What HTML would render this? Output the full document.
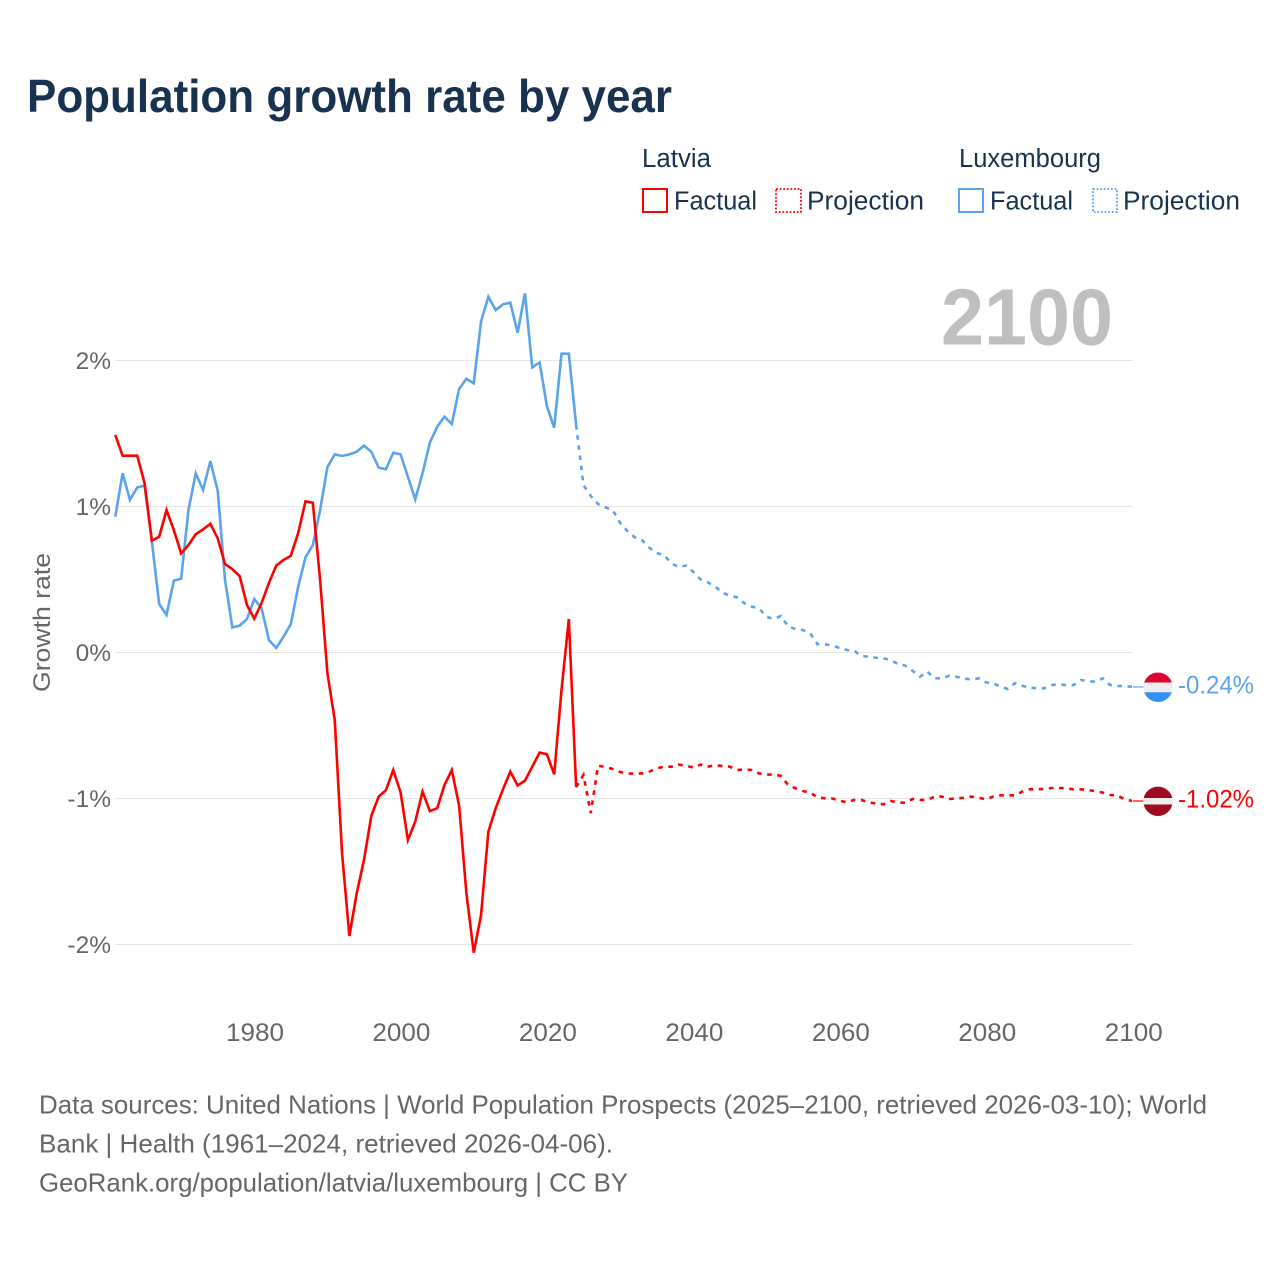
<!DOCTYPE html>
<html lang="en">
<head>
<meta charset="utf-8">
<title>Population growth rate by year</title>
<style>
  html, body { margin: 0; padding: 0; background: #ffffff; }
  svg { display: block; font-family: "Liberation Sans", sans-serif; }
</style>
</head>
<body>
<svg id="chart" xmlns="http://www.w3.org/2000/svg" width="1280" height="1280" viewBox="0 0 1280 1280">
  <rect x="0" y="0" width="1280" height="1280" fill="#ffffff"/>
  <text x="27" y="112" font-size="46" font-weight="bold" fill="#19324f" textLength="645" lengthAdjust="spacingAndGlyphs">Population growth rate by year</text>

  <g font-size="25.5" fill="#19324f">
    <text x="642" y="167" textLength="69" lengthAdjust="spacingAndGlyphs">Latvia</text>
    <text x="959" y="167" textLength="142" lengthAdjust="spacingAndGlyphs">Luxembourg</text>
    <g>
      <rect x="643" y="189" width="24" height="23" fill="none" stroke="#ff0000" stroke-width="2"/>
      <text x="674" y="209.5" textLength="83" lengthAdjust="spacingAndGlyphs">Factual</text>
    </g>
    <g>
      <rect x="776" y="189" width="25" height="23" fill="none" stroke="#ff0000" stroke-width="1.8" stroke-dasharray="1.8 1.8"/>
      <text x="807" y="209.5" textLength="117" lengthAdjust="spacingAndGlyphs">Projection</text>
    </g>
    <g>
      <rect x="959" y="189" width="24" height="23" fill="none" stroke="#5ba3ec" stroke-width="2"/>
      <text x="990" y="209.5" textLength="83" lengthAdjust="spacingAndGlyphs">Factual</text>
    </g>
    <g>
      <rect x="1093" y="189" width="24" height="23" fill="none" stroke="#5ba3ec" stroke-width="1.8" stroke-dasharray="1.8 1.8"/>
      <text x="1123" y="209.5" textLength="117" lengthAdjust="spacingAndGlyphs">Projection</text>
    </g>
  </g>

  <g id="grid"></g>
  <g id="yticks"></g>
  <g id="xticks"></g>

  <text x="941" y="344.5" font-size="80" font-weight="bold" fill="#bfbfbf" textLength="172" lengthAdjust="spacingAndGlyphs">2100</text>
  <text transform="translate(50 692) rotate(-90)" font-size="24" fill="#666666" textLength="139" lengthAdjust="spacingAndGlyphs">Growth rate</text>

  <g id="series"></g>
  <g id="ends"></g>

  <g font-size="26" fill="#666666">
    <text x="39" y="1113.5" textLength="1168" lengthAdjust="spacingAndGlyphs">Data sources: United Nations | World Population Prospects (2025–2100, retrieved 2026-03-10); World</text>
    <text x="39" y="1152.5" textLength="574" lengthAdjust="spacingAndGlyphs">Bank | Health (1961–2024, retrieved 2026-04-06).</text>
    <text x="39" y="1191.5" textLength="589" lengthAdjust="spacingAndGlyphs">GeoRank.org/population/latvia/luxembourg | CC BY</text>
  </g>
</svg>

<script>
const factualStartYear = 1961;
const projectionStartYear = 2025;

const latviaFactual = [
  1.49, 1.348, 1.348, 1.348, 1.16, 0.766, 0.793, 0.976, 0.839,
  0.679, 0.736, 0.81, 0.843, 0.882, 0.782, 0.606, 0.571, 0.524, 0.325,
  0.232, 0.339, 0.476, 0.595, 0.634, 0.663, 0.818, 1.035, 1.026, 0.497,
  -0.143, -0.462, -1.375, -1.942, -1.65, -1.42, -1.118, -0.988, -0.942, -0.805,
  -0.958, -1.284, -1.159, -0.953, -1.086, -1.067, -0.908, -0.805, -1.049, -1.65,
  -2.056, -1.798, -1.227, -1.067, -0.937, -0.816, -0.91, -0.878, -0.782, -0.686,
  -0.697, -0.834, -0.257, 0.229, -0.922
];

const latviaProjection = [
  -0.839, -1.10, -0.775, -0.785, -0.798,
  -0.818, -0.83, -0.828, -0.828, -0.816, -0.794, -0.782, -0.782, -0.768, -0.777,
  -0.787, -0.768, -0.782, -0.773, -0.777, -0.782, -0.805, -0.80, -0.805, -0.828,
  -0.836, -0.836, -0.845, -0.908, -0.93, -0.949, -0.96, -0.992, -0.999, -1.00,
  -1.015, -1.026, -1.01, -1.01, -1.026, -1.035, -1.04, -1.017, -1.026, -1.03,
  -1.003, -1.01, -1.01, -0.987, -0.987, -1.003, -1.0, -0.995, -0.987, -0.995,
  -1.005, -0.987, -0.978, -0.978, -0.978, -0.953, -0.937, -0.937, -0.935, -0.928,
  -0.928, -0.93, -0.937, -0.937, -0.942, -0.95, -0.96, -0.976, -0.98, -1.005, -1.017
];

const luxembourgFactual = [
  0.93, 1.227, 1.045, 1.13, 1.143, 0.759, 0.332, 0.257, 0.492,
  0.505, 0.976, 1.227, 1.113, 1.311, 1.108, 0.497, 0.172, 0.184, 0.229,
  0.366, 0.303, 0.086, 0.031, 0.108, 0.195, 0.451, 0.652, 0.736, 0.976,
  1.27, 1.357, 1.346, 1.357, 1.375, 1.417, 1.375, 1.266, 1.255, 1.368,
  1.357, 1.204, 1.049, 1.227, 1.437, 1.546, 1.615, 1.565, 1.805, 1.875,
  1.844, 2.266, 2.437, 2.346, 2.385, 2.396, 2.19, 2.46, 1.953, 1.987,
  1.688, 1.54, 2.047, 2.047, 1.558
];

const luxembourgProjection = [
  1.147, 1.072, 1.017, 0.994, 0.976,
  0.889, 0.832, 0.789, 0.77, 0.718, 0.681, 0.668, 0.611, 0.586, 0.595,
  0.553, 0.501, 0.481, 0.451, 0.41, 0.389, 0.378, 0.337, 0.314, 0.303,
  0.245, 0.229, 0.25, 0.177, 0.161, 0.154, 0.131, 0.056, 0.056, 0.049,
  0.031, 0.017, 0.012, -0.024, -0.029, -0.036, -0.04, -0.051, -0.079, -0.09,
  -0.125, -0.166, -0.131, -0.177, -0.177, -0.159, -0.166, -0.179, -0.184, -0.177,
  -0.204, -0.211, -0.234, -0.25, -0.21, -0.229, -0.241, -0.245, -0.245, -0.223,
  -0.218, -0.223, -0.223, -0.188, -0.197, -0.2, -0.177, -0.223, -0.229, -0.229, -0.236
];

const yTickValues = [2, 1, 0, -1, -2];
const yTickLabels = ["2%", "1%", "0%", "-1%", "-2%"];
const xTickYears = [1980, 2000, 2020, 2040, 2060, 2080, 2100];
const endLabels = ["-1.02%", "-0.24%"];

const SVG_NS = "http://www.w3.org/2000/svg";
const RED = "#ff0000";
const BLUE = "#5ba3ec";

function xScale(year) { return 115.3 + (year - 1961) * 7.315; }
function yScale(value) { return 652.5 - 146 * value; }

function make(tag, parent) {
  const el = document.createElementNS(SVG_NS, tag);
  parent.appendChild(el);
  return el;
}

function linePath(startYear, values) {
  return values.map(function (v, i) {
    return (i ? "L" : "M") + xScale(startYear + i).toFixed(2) + " " + yScale(v).toFixed(2);
  }).join(" ");
}

const gridGroup = document.getElementById("grid");
const yTickGroup = document.getElementById("yticks");
const xTickGroup = document.getElementById("xticks");
const seriesGroup = document.getElementById("series");
const endGroup = document.getElementById("ends");

yTickValues.forEach(function (value, i) {
  const line = make("line", gridGroup);
  
  
  line.setAttribute("x1", 115);
  line.setAttribute("x2", 1133);
  line.setAttribute("y1", yScale(value));
  line.setAttribute("y2", yScale(value));
  line.setAttribute("stroke", "#e6e6e6");
  line.setAttribute("stroke-width", 1);

  const label = make("text", yTickGroup);
  
  
  label.setAttribute("x", 111);
  label.setAttribute("y", yScale(value) + 8.5);
  label.setAttribute("text-anchor", "end");
  label.setAttribute("font-size", 24.5);
  label.setAttribute("fill", "#666666");
  label.textContent = yTickLabels[i];
});

xTickYears.forEach(function (year) {
  const label = make("text", xTickGroup);
  
  
  label.setAttribute("x", xScale(year) + 0.7 + (year - 1980) * 0.0083);
  label.setAttribute("y", 1041);
  label.setAttribute("text-anchor", "middle");
  label.setAttribute("font-size", 25);
  label.setAttribute("fill", "#666666");
  label.setAttribute("textLength", 58);
  label.setAttribute("lengthAdjust", "spacingAndGlyphs");
  label.textContent = String(year);
});

function drawSeries(factual, projection, color, nameFactual, nameProjection) {
  const projected = make("path", seriesGroup);
  
  
  projected.setAttribute("d", linePath(projectionStartYear - 1, [factual[factual.length - 1]].concat(projection)));
  projected.setAttribute("fill", "none");
  projected.setAttribute("stroke", color);
  projected.setAttribute("stroke-width", 2.6);
  projected.setAttribute("stroke-dasharray", "4.6 5.6");

  const actual = make("path", seriesGroup);
  
  
  actual.setAttribute("d", linePath(factualStartYear, factual));
  actual.setAttribute("fill", "none");
  actual.setAttribute("stroke", color);
  actual.setAttribute("stroke-width", 2.6);
  actual.setAttribute("stroke-linejoin", "miter");
}

drawSeries(luxembourgFactual, luxembourgProjection, BLUE, 'luxembourg-factual-line', 'luxembourg-projection-line');
drawSeries(latviaFactual, latviaProjection, RED, 'latvia-factual-line', 'latvia-projection-line');

function drawEnd(value, color, stripes, clipId, text, groupName) {
  const cy = yScale(value) + 0.3;
  const cx = 1158;
  const r = 14.7;

  const group = make("g", endGroup);
  
  

  const connector = make("line", group);
  
  
  connector.setAttribute("x1", 1133);
  connector.setAttribute("x2", cx - r);
  connector.setAttribute("y1", yScale(value));
  connector.setAttribute("y2", yScale(value));
  connector.setAttribute("stroke", color);
  connector.setAttribute("stroke-width", 1.2);

  const clip = make("clipPath", group);
  clip.setAttribute("id", clipId);
  const clipCircle = make("circle", clip);
  clipCircle.setAttribute("cx", cx);
  clipCircle.setAttribute("cy", cy);
  clipCircle.setAttribute("r", r);

  const flag = make("g", group);
  
  
  flag.setAttribute("clip-path", "url(#" + clipId + ")");
  let top = cy - r;
  stripes.forEach(function (stripe) {
    const rect = make("rect", flag);
    rect.setAttribute("x", cx - r);
    rect.setAttribute("y", top);
    rect.setAttribute("width", r * 2);
    rect.setAttribute("height", stripe[1] * r * 2);
    rect.setAttribute("fill", stripe[0]);
    top += stripe[1] * r * 2;
  });

  const label = make("text", group);
  
  
  label.setAttribute("x", 1178);
  label.setAttribute("y", yScale(value) + 6.5);
  label.setAttribute("font-size", 25);
  label.setAttribute("fill", color);
  label.setAttribute("textLength", 76);
  label.setAttribute("lengthAdjust", "spacingAndGlyphs");
  label.textContent = text;
}

drawEnd(latviaProjection[latviaProjection.length - 1], RED,
  [["#9e0a20", 0.39], ["#eeeeee", 0.22], ["#9e0a20", 0.39]],
  "clip-latvia", endLabels[0], 'latvia-end-marker');
drawEnd(luxembourgProjection[luxembourgProjection.length - 1], BLUE,
  [["#dd0530", 0.34], ["#eeeeee", 0.33], ["#3390f5", 0.33]],
  "clip-luxembourg", endLabels[1], 'luxembourg-end-marker');
</script>
</body>
</html>
